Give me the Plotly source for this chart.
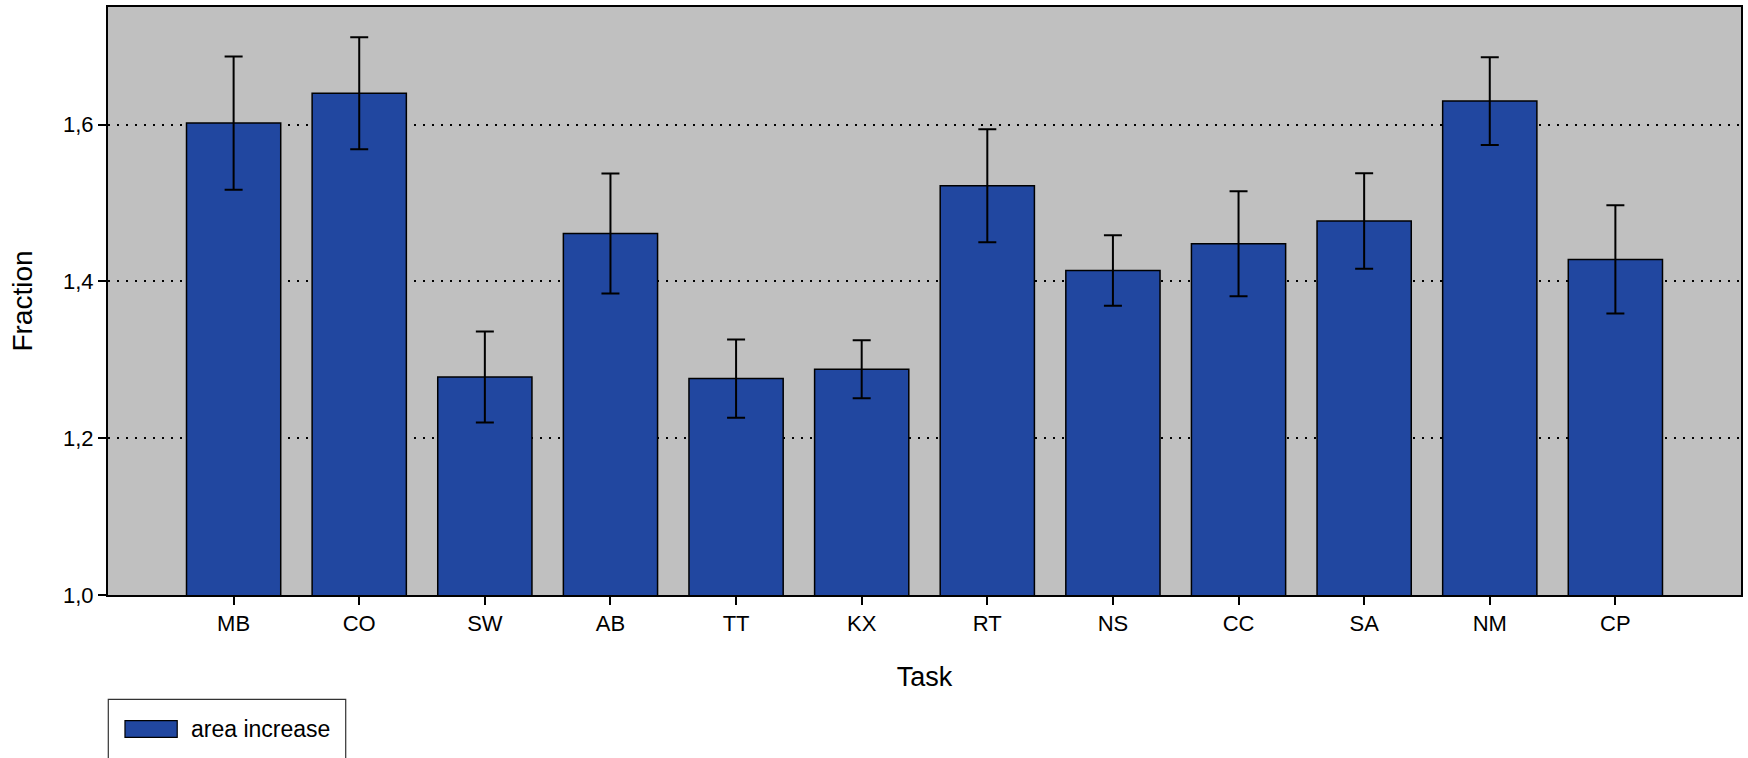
import plotly.graph_objects as go

# Task categories and their mean area-increase fraction with symmetric error
tasks = ["MB", "CO", "SW", "AB", "TT", "KX", "RT", "NS", "CC", "SA", "NM", "CP"]
fraction = [1.602, 1.640, 1.278, 1.461, 1.276, 1.288, 1.522, 1.414, 1.448, 1.477, 1.630, 1.428]
fraction_err = [0.085, 0.0715, 0.058, 0.0765, 0.050, 0.037, 0.072, 0.045, 0.067, 0.061, 0.056, 0.069]
y_ticks = [1.0, 1.2, 1.4, 1.6]
series_name = "area increase"

W, H = 1748, 758
M_L, M_R, M_T, M_B = 108, 5, 7, 163
BAR_COLOR = "#2147a0"
FONT = "Arial, Liberation Sans, sans-serif"

plot_w = W - M_L - M_R
plot_h = H - M_T - M_B


def px_x(x):
    return (x - M_L) / plot_w


def px_y(y):
    return (H - M_B - y) / plot_h


fig = go.Figure(
    go.Bar(
        x=tasks,
        y=fraction,
        name=series_name,
        marker=dict(color=BAR_COLOR, line=dict(color="black", width=1.5)),
        error_y=dict(type="data", array=fraction_err, visible=True,
                     color="black", thickness=2, width=9),
        showlegend=False,
    )
)

fig.update_layout(
    width=W,
    height=H,
    margin=dict(l=M_L, r=M_R, t=M_T, b=M_B),
    paper_bgcolor="white",
    plot_bgcolor="#c0c0c0",
    bargap=0.25,
    separators=", ",
    font=dict(family=FONT, color="black", size=22),
)

fig.update_xaxes(
    type="category",
    range=[-1, len(tasks)],
    showline=True, linecolor="black", linewidth=2, mirror=True,
    ticks="outside", ticklen=8, tickwidth=1.5, tickcolor="black",
    showgrid=False,
    tickfont=dict(size=22),
    title=dict(text="Task", font=dict(size=27), standoff=32),
)

fig.update_yaxes(
    range=[1.0, 1.75],
    tickvals=y_ticks,
    tickformat=".1f",
    showline=True, linecolor="black", linewidth=2, mirror=True,
    ticks="outside", ticklen=8, tickwidth=1.5, tickcolor="black",
    showgrid=True, gridcolor="black", gridwidth=1.5, griddash="2px,7px",
    zeroline=False,
    tickfont=dict(size=22),
    title=dict(text="Fraction", font=dict(size=28), standoff=22),
)

# Legend box drawn below the axes
fig.add_shape(type="rect", xref="paper", yref="paper",
              x0=px_x(108.3), x1=px_x(346), y0=px_y(790), y1=px_y(699.3),
              line=dict(color="#333333", width=1.2), fillcolor="white")
fig.add_shape(type="rect", xref="paper", yref="paper",
              x0=px_x(125), x1=px_x(177.3), y0=px_y(737.3), y1=px_y(720.7),
              line=dict(color="black", width=1.2), fillcolor=BAR_COLOR)
fig.add_annotation(xref="paper", yref="paper", x=px_x(189), y=px_y(729),
                   xanchor="left", yanchor="middle", showarrow=False,
                   text=series_name, font=dict(size=23, family=FONT))

fig.write_html("out.html")
